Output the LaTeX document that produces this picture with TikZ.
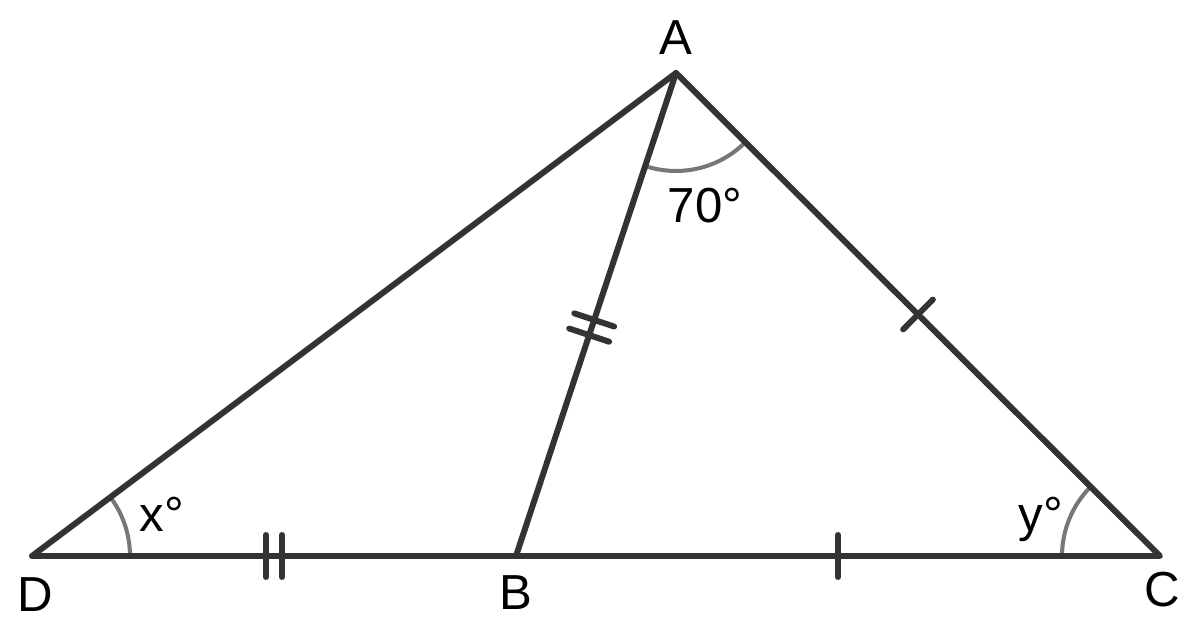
\documentclass[tikz,border=0pt]{standalone}
\usepackage{fontspec}
\setmainfont{Liberation Sans}
\usetikzlibrary{calc}
\definecolor{edge}{HTML}{333333}
\definecolor{arcc}{HTML}{777777}
\begin{document}
\begin{tikzpicture}[x=0.02cm,y=0.02cm,
  seg/.style={draw=edge,line width=3.4pt,line cap=round,line join=round},
  tick/.style={draw=edge,line width=3.4pt,line cap=round},
  anglearc/.style={draw=arcc,line width=2.3pt},
  lbl/.style={font=\fontsize{28}{30}\selectfont,anchor=base,inner sep=0pt}]
\useasboundingbox (0,0) rectangle (1200,638);
\coordinate (A) at (676,565);
\coordinate (D) at (32,82);
\coordinate (B) at (516,82);
\coordinate (C) at (1160,82);
% angle arcs
\draw[anglearc] ($(D)+(1.96cm,0)$) arc[start angle=0,end angle=36.87,radius=1.96cm];
\draw[anglearc] ($(C)+(-1.96cm,0)$) arc[start angle=180,end angle=135.06,radius=1.96cm];
\draw[anglearc] ($(A)+(-108.34:1.96cm)$) arc[start angle=-108.34,end angle=-44.94,radius=1.96cm];
% sides
\draw[seg] (D) -- (A) -- (C) -- cycle;
\draw[seg] (A) -- (B);
% tick marks
\coordinate (mDB) at ($(D)!0.5!(B)$);
\coordinate (mBC) at ($(B)!0.5!(C)$);
\coordinate (mAB) at ($(A)!0.527!(B)$);
\coordinate (mAC) at ($(A)!0.50!(C)$);
\foreach \s in {-0.16cm,0.16cm}{
  \coordinate (t) at ($(mDB)!\s!(B)$);
  \draw[tick] ($(t)!0.42cm!90:(B)$) -- ($(t)!0.42cm!-90:(B)$);
  \coordinate (u) at ($(mAB)!\s!(B)$);
  \draw[tick] ($(u)!0.42cm!90:(B)$) -- ($(u)!0.42cm!-90:(B)$);
}
\draw[tick] ($(mBC)!0.42cm!90:(C)$) -- ($(mBC)!0.42cm!-90:(C)$);
\draw[tick] ($(mAC)!0.42cm!90:(C)$) -- ($(mAC)!0.42cm!-90:(C)$);
% labels
\node[lbl] (lA) at (676,583) {A};
\node[lbl] (lD) at (35,26) {D};
\node[lbl] (lB) at (516,28) {B};
\node[lbl] (lC) at (1162,31) {C};
\node[lbl] (l70) at (705,415) {70°};
\node[lbl] (lx) at (162,106) {x°};
\node[lbl] (ly) at (1041,106) {y°};
\end{tikzpicture}
\end{document}
